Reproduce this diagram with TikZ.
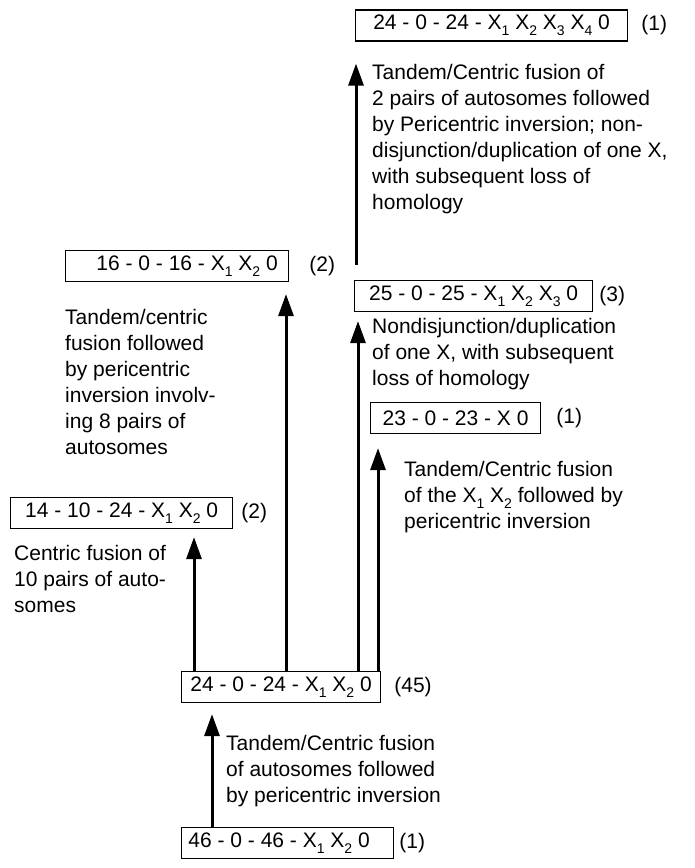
\documentclass[tikz,border=0pt]{standalone}
\usepackage{fontspec}
\setmainfont{Liberation Sans}
\usetikzlibrary{arrows.meta,positioning}
\newcommand{\ksub}[1]{\raisebox{-0.28em}{\fontsize{14}{14}\selectfont#1}}
\tikzset{
  kbox/.style={draw,line width=1.2pt,minimum height=31pt,inner xsep=0pt,anchor=west},
  count/.style={inner sep=0pt},
  note/.style={align=left,inner sep=0pt,anchor=north west},
  evo/.style={line width=3pt,-{Triangle[width=15pt,length=22pt]}}
}

\begin{document}
\begin{tikzpicture}[x=1pt,y=-1pt,font=\fontsize{21}{26}\selectfont]
  \useasboundingbox (0,0) rectangle (695,868);
  % karyotypes
  \node[kbox,minimum width=272pt] (btop) at (355,25.5) {24 - 0 - 24 - X\ksub{1} X\ksub{2} X\ksub{3} X\ksub{4} 0};
  \node[kbox,minimum width=223pt] (b16) at (65,266) {\hspace*{20pt}16 - 0 - 16 - X\ksub{1} X\ksub{2} 0};
  \node[kbox,minimum width=238pt] (b25) at (354,296) {25 - 0 - 25 - X\ksub{1} X\ksub{2} X\ksub{3} 0};
  \node[kbox,minimum width=170pt] (b23) at (370,418) {23 - 0 - 23 - X 0};
  \node[kbox,minimum width=222pt] (b14) at (10,513) {14 - 10 - 24 - X\ksub{1} X\ksub{2} 0};
  \node[kbox,minimum width=199pt] (b24) at (181,687) {24 - 0 - 24 - X\ksub{1} X\ksub{2} 0};
  \node[kbox,minimum width=212pt] (b46) at (181,843) {46 - 0 - 46 - X\ksub{1} X\ksub{2} 0\hspace*{17pt}};

  % counts
  \node[count,right=13pt of btop] {(1)};
  \node[count,right=20pt of b16] {(2)};
  \node[count,right=6pt of b25] {(3)};
  \node[count,right=15pt of b23] {(1)};
  \node[count,right=8pt of b14] {(2)};
  \node[count,right=13pt of b24] {(45)};
  \node[count,right=5pt of b46] {(1)};

  % arrow columns
  \coordinate (atop) at (356,0);
  \coordinate (a25) at (358,0);
  \coordinate (a23) at (378,0);
  \coordinate (a16) at (286,0);
  \coordinate (a14) at (194,0);
  \coordinate (a24) at (212,0);

  \draw[evo,shorten <=15pt,shorten >=22pt] (b25.north -| atop) -- (btop.south -| atop);
  \draw[evo,shorten >=9pt] (b24.north -| a25) -- (b25.south -| a25);
  \draw[evo,shorten >=14pt] (b24.north -| a23) -- (b23.south -| a23);
  \draw[evo,shorten >=12pt] (b24.north -| a16) -- (b16.south -| a16);
  \draw[evo,shorten >=8pt] (b24.north -| a14) -- (b14.south -| a14);
  \draw[evo,shorten >=11pt] (b46.north -| a24) -- (b24.south -| a24);

  % mechanisms
  \node[note] (ntop) at (372,64) {Tandem/Centric fusion of\\2 pairs of autosomes followed\\by Pericentric inversion; non-\\disjunction/duplication of one X,\\with subsequent loss of\\homology};
  \node[note] (n25) at (372,318) {Nondisjunction/duplication\\of one X, with subsequent\\loss of homology};
  \node[note] (n23) at (404,461) {Tandem/Centric fusion\\of the X\ksub{1} X\ksub{2} followed by\\pericentric inversion};
  \node[note] (n16) at (65,309) {Tandem/centric\\fusion followed\\by pericentric\\inversion involv-\\ing 8 pairs of\\autosomes};
  \node[note] (n14) at (14,545) {Centric fusion of\\10 pairs of auto-\\somes};
  \node[note] (n24) at (226,735) {Tandem/Centric fusion\\of autosomes followed\\by pericentric inversion};
\end{tikzpicture}
\end{document}
